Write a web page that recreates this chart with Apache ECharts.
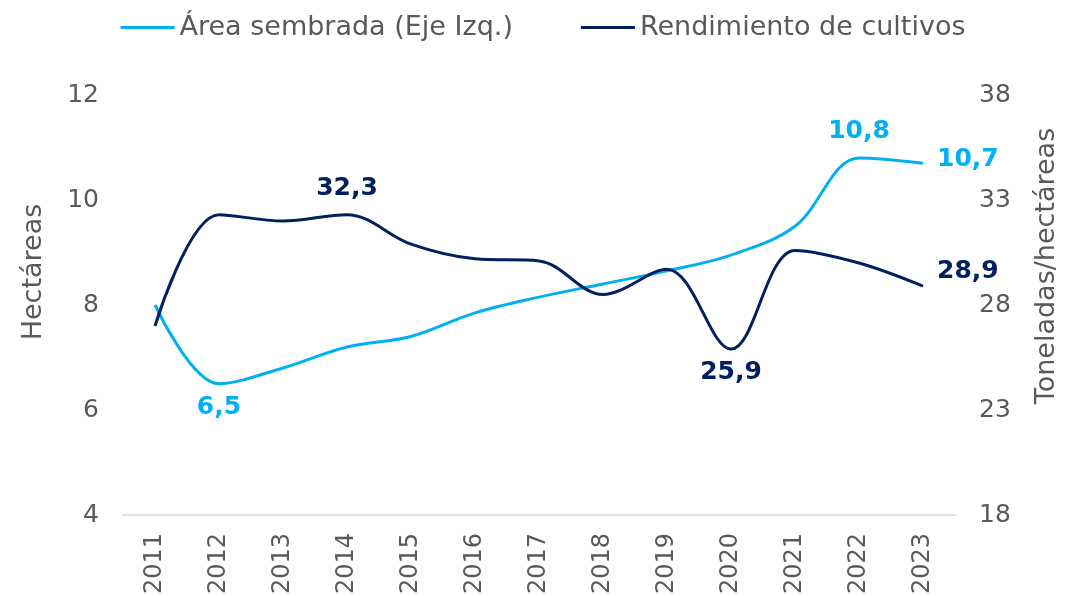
<!DOCTYPE html>
<html>
<head>
<meta charset="utf-8">
<script src="https://cdn.jsdelivr.net/npm/echarts@6/dist/echarts.min.js"></script>
<style>
  html, body { margin: 0; padding: 0; background: #fff; }
  #chart { width: 1086px; height: 596px; }
</style>
</head>
<body>
<div id="chart"></div>
<script>
var years = ["2011", "2012", "2013", "2014", "2015", "2016", "2017", "2018", "2019", "2020", "2021", "2022", "2023"];
var areaSembrada = [8.0, 6.5, 6.8, 7.2, 7.4, 7.85, 8.15, 8.4, 8.65, 8.95, 9.5, 10.8, 10.7];
var rendimiento = [27.0, 32.3, 32.0, 32.3, 30.9, 30.2, 30.1, 28.5, 29.7, 25.9, 30.6, 30.0, 28.9];

// which points carry a value label, and where
var areaLabels = { 1: "bottom", 11: "top", 12: "right" };
var rendLabels = { 3: "top", 9: "bottom", 12: "right" };

var FONT = "DejaVu Sans";
var LIGHT = "#00B0F0";
var DARK = "#002060";
var GREY = "#595959";

function fmt(v) {
  return v.toFixed(1).replace(".", ",");
}

function withLabels(values, labels, color, rightOffset) {
  return values.map(function (v, i) {
    var pos = labels[i];
    if (!pos) return v;
    var dist = pos === "right" ? 14 : (pos === "top" ? 14 : 11);
    return {
      value: v,
      label: {
        show: true,
        position: pos,
        distance: dist,
        offset: pos === "right" ? rightOffset : [0, 0],
        formatter: function (p) { return fmt(p.value); },
        color: color,
        fontFamily: FONT,
        fontWeight: "bold",
        fontSize: 25
      }
    };
  });
}

var chart = echarts.init(document.getElementById("chart"));

var option = {
  animation: false,
  textStyle: { fontFamily: FONT },
  legend: {
    top: 9,
    left: "center",
    itemGap: 68,
    itemWidth: 54,
    itemHeight: 3,
    icon: "rect",
    textStyle: { color: GREY, fontSize: 27, fontFamily: FONT },
    data: ["Área sembrada (Eje Izq.)", "Rendimiento de cultivos"]
  },
  grid: { left: 123, right: 131, top: 95, bottom: 81, outerBoundsMode: "none" },
  xAxis: {
    type: "category",
    data: years,
    boundaryGap: true,
    axisLine: { lineStyle: { color: "#d9d9d9", width: 1.5 } },
    axisTick: { show: false },
    axisLabel: { rotate: 90, color: GREY, fontSize: 24, fontFamily: FONT, margin: 18 }
  },
  yAxis: [
    {
      type: "value",
      min: 4,
      max: 12,
      interval: 2,
      name: "Hectáreas",
      nameLocation: "middle",
      nameGap: 76,
      nameTextStyle: { color: GREY, fontSize: 27, fontFamily: FONT, padding: [0, 0, 0, 66] },
      splitLine: { show: false },
      axisLine: { show: false },
      axisTick: { show: false },
      axisLabel: { color: GREY, fontSize: 25, fontFamily: FONT, margin: 24 }
    },
    {
      type: "value",
      min: 18,
      max: 38,
      interval: 5,
      name: "Toneladas/hectáreas",
      nameLocation: "middle",
      nameGap: 78,
      nameRotate: 90,
      nameTextStyle: { color: GREY, fontSize: 27, fontFamily: FONT, padding: [0, 0, 0, 78] },
      splitLine: { show: false },
      axisLine: { show: false },
      axisTick: { show: false },
      axisLabel: { color: GREY, fontSize: 25, fontFamily: FONT, margin: 24 }
    }
  ],
  series: [
    {
      name: "Área sembrada (Eje Izq.)",
      type: "line",
      yAxisIndex: 0,
      smooth: 0.35,
      symbol: "circle",
      symbolSize: 0,
      showSymbol: true,
      color: LIGHT,
      lineStyle: { color: LIGHT, width: 3 },
      data: withLabels(areaSembrada, areaLabels, LIGHT, [0, -4])
    },
    {
      name: "Rendimiento de cultivos",
      type: "line",
      yAxisIndex: 1,
      smooth: 0.35,
      symbol: "circle",
      symbolSize: 0,
      showSymbol: true,
      color: DARK,
      lineStyle: { color: DARK, width: 3 },
      data: withLabels(rendimiento, rendLabels, DARK, [0, -15])
    }
  ]
};

chart.setOption(option);
</script>
</body>
</html>
